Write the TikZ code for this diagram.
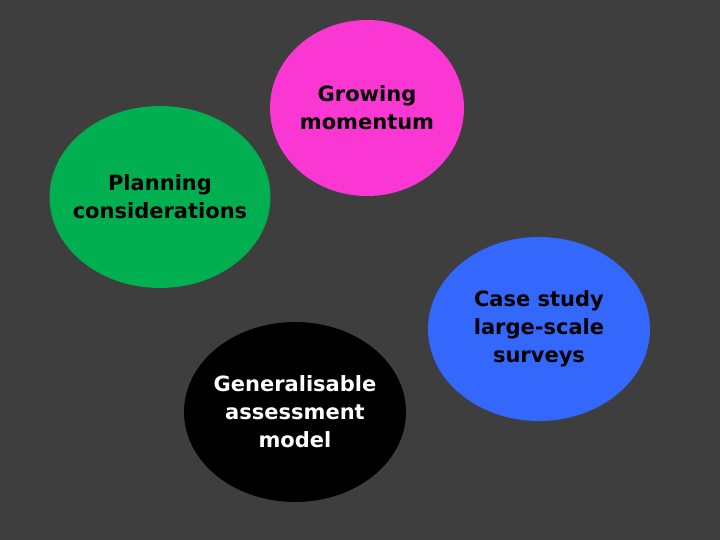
\documentclass[tikz,border=0pt]{standalone}
\usepackage{fontspec}
\setmainfont{DejaVu Sans}
\definecolor{bgrey}{RGB}{62,62,62}
\definecolor{bpink}{RGB}{250,55,210}
\definecolor{bgreen}{RGB}{0,176,80}
\definecolor{bblue}{RGB}{52,104,252}
\tikzset{
  label/.style={inner sep=0pt,align=center,
    font=\bfseries\fontsize{21}{28}\selectfont}
}

\begin{document}
\begin{tikzpicture}[x=1pt,y=-1pt]
          \fill[bgrey] (0,0) rectangle (720,540);
          \useasboundingbox (0,0) rectangle (720,540);
          % bubbles
          \fill[bgreen] (160,197) ellipse (110.5 and 91);
          \fill[bpink] (367,108) ellipse (97 and 88);
          \fill[bblue] (539,329) ellipse (111 and 92);
          \fill[black] (295,412) ellipse (111 and 90);
          % texts
          \node[label] (plan) at (160,197) {Planning\\considerations};
          \node[label] (grow) at (367,108) {Growing\\momentum};
          \node[label] (case) at (539,329) {Case study\\large-scale\\surveys};
          \node[label,text=white] (model) at (295,412) {Generalisable\\assessment\\model};
        \end{tikzpicture}
\end{document}
